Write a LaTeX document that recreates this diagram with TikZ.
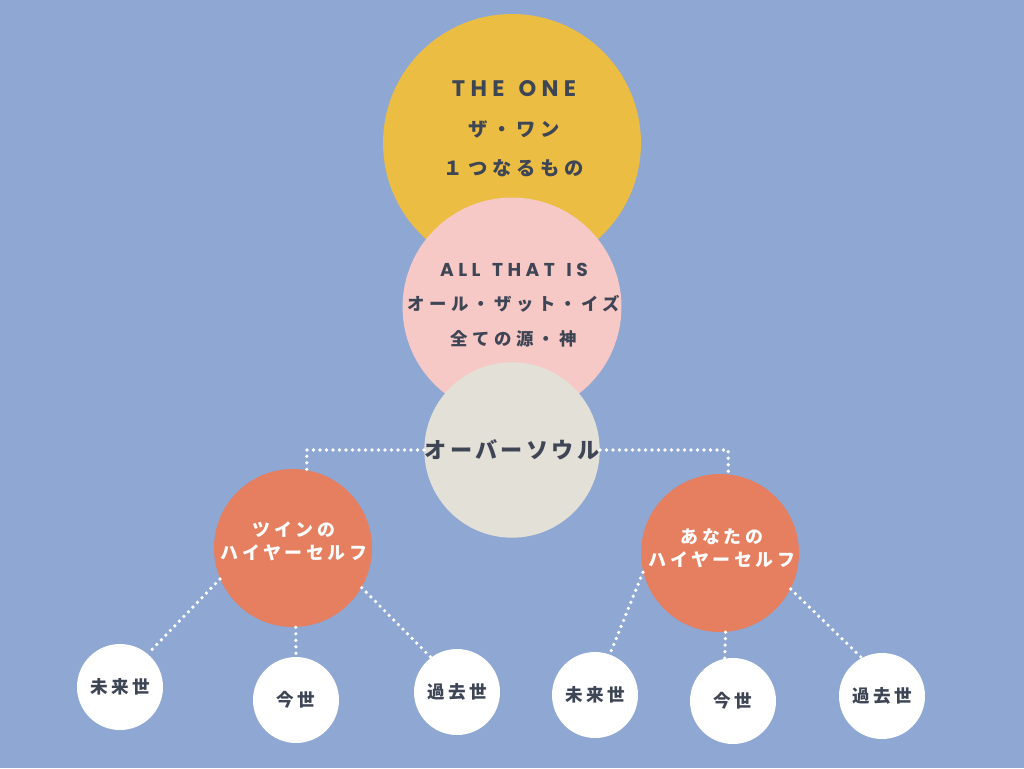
\documentclass[tikz,border=0pt]{standalone}
\usepackage{fontspec}
\setmainfont{Noto Sans CJK JP}
\newfontfamily\titlefont[LetterSpace=24]{Poppins}
\newfontfamily\jpwide[LetterSpace=25]{Noto Sans CJK JP}
\newfontfamily\jpsoul[LetterSpace=15]{Noto Sans CJK JP}
\newfontfamily\jplife[LetterSpace=20]{Noto Sans CJK JP}
\usetikzlibrary{calc, positioning}

\definecolor{bgblue}{HTML}{8EA7D3}
\definecolor{sunyellow}{HTML}{EBBD42}
\definecolor{softpink}{HTML}{F6C9C6}
\definecolor{stonegrey}{HTML}{E3E0D8}
\definecolor{coral}{HTML}{E67F5F}
\definecolor{inkgrey}{HTML}{3E4555}

\newcommand{\wsp}{\hspace{0.62em}}

\begin{document}
\begin{tikzpicture}[
    x=0.02cm, y=-0.02cm,
    bubble/.style={circle, inner sep=0pt, align=center, text=inkgrey},
    life/.style={bubble, fill=white, minimum size=1.72cm,
        font=\fontsize{10pt}{12pt}\bfseries\jplife},
    higher/.style={bubble, fill=coral, minimum size=3.16cm},
    line/.style={text=inkgrey, inner sep=0pt},
    higherline/.style={line, text=white, align=center,
        font=\fontsize{10.2pt}{13pt}\bfseries\jplife},
    dotline/.style={white, line width=2.1pt, line cap=round,
        dash pattern=on 0pt off 3.7pt}
]

    % Background -------------------------------------------------

    \fill[bgblue] (0,0) rectangle (1024,768);

    % Nodes ------------------------------------------------------

    \node[bubble, fill=sunyellow, minimum size=5.16cm] (one) at (512,143) {};
    \node[bubble, fill=softpink, minimum size=4.38cm] (all) at (512,307) {};
    \node[bubble, fill=stonegrey, minimum size=3.5cm,
        font=\fontsize{12.6pt}{14pt}\bfseries\jpsoul] (soul) at (512,450) {オーバーソウル};

    % texts in the big circles
    \node[line, font=\fontsize{12.8pt}{14pt}\bfseries\titlefont] (one_l1) at (514,89) {THE\wsp ONE};
    \node[line, font=\fontsize{11pt}{13pt}\bfseries\jpwide] (one_l2) at (514,129) {ザ・ワン};
    \node[line, font=\fontsize{11pt}{13pt}\bfseries\jpwide] (one_l3) at (514,168) {１つなるもの};
    \node[line, font=\fontsize{10.6pt}{12pt}\bfseries\titlefont] (all_l1) at (514,270) {ALL\wsp THAT\wsp IS};
    \node[line, font=\fontsize{9.9pt}{12pt}\bfseries\jpwide] (all_l2) at (514,304) {オール・ザット・イズ};
    \node[line, font=\fontsize{9.9pt}{12pt}\bfseries\jpwide] (all_l3) at (514,339) {全ての源・神};

    % higher selves
    \node[higher] (twin) at (293,548) {};
    \node[higher] (self) at (720,553) {};
    \node[higherline] (twin_text) at (294,541) {ツインの\\ハイヤーセルフ};
    \node[higherline] (self_text) at (722,548) {あなたの\\ハイヤーセルフ};

    % lives
    \node[life] (tw_future) at (120,687) {未来世};
    \node[life] (tw_now) at (296,700) {今世};
    \node[life] (tw_past) at (457,692) {過去世};
    \node[life] (my_future) at (595,695) {未来世};
    \node[life] (my_now) at (733,701) {今世};
    \node[life] (my_past) at (882,696) {過去世};

    % Links ------------------------------------------------------

    \draw[dotline] (soul.west) -| (twin.80);
    \draw[dotline] (soul.east) -| (self.84);

    \draw[dotline] (twin.203) -- (tw_future.50);
    \draw[dotline] (twin.-88) -- (tw_now.90);
    \draw[dotline] (twin.-30) -- (tw_past.127);
    \draw[dotline] (self.194) -- (my_future.70);
    \draw[dotline] (self.-86) -- (my_now.101);
    \draw[dotline] (self.-27) -- (my_past.118);

\end{tikzpicture}
\end{document}
